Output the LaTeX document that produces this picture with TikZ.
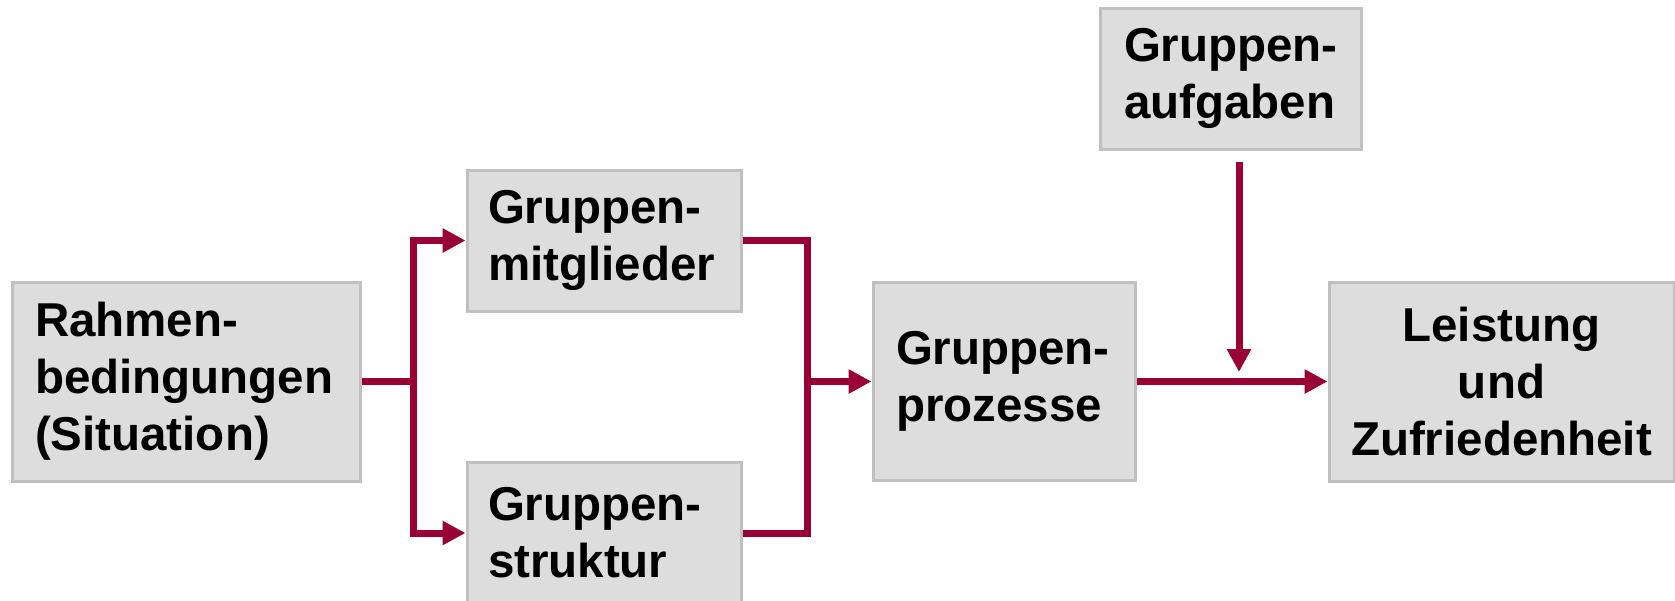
\documentclass[tikz,border=0pt]{standalone}
\usepackage{fontspec}
\setmainfont{Liberation Sans}
\usetikzlibrary{arrows.meta}
\definecolor{boxfill}{HTML}{DDDDDD}
\definecolor{boxline}{HTML}{C0C0C0}
\definecolor{arrowred}{HTML}{990033}
\begin{document}
\begin{tikzpicture}[x=0.5pt,y=-0.5pt,
  box/.style={draw=boxline, line width=1.5pt, fill=boxfill,
    font=\bfseries\fontsize{23.75}{28.5}\selectfont, inner ysep=0pt, anchor=center},
  lbox/.style={box, align=left},
  cbox/.style={box, align=center},
  flow/.style={draw=arrowred, line width=3.5pt},
  arr/.style={flow, -{Triangle[length=11.5pt,width=11.5pt]}}]
\useasboundingbox (0,0) rectangle (1675,600);
\node[lbox, text width=151pt, inner xsep=11.5pt, minimum height=99.5pt] (rahmen) at (186,381.5)
  {\mbox{Rahmen-}\\\mbox{bedingungen}\\\mbox{(Situation)}};
\node[lbox, text width=116pt, inner xsep=10.5pt, minimum height=70.5pt] (mitglieder) at (604,240.5)
  {\mbox{Gruppen-}\\\mbox{mitglieder}};
\node[lbox, text width=116pt, inner xsep=10.5pt, minimum height=71pt] (struktur) at (604,533)
  {\mbox{Gruppen-}\\\mbox{struktur}};
\node[lbox, text width=108pt, inner xsep=11.5pt, minimum height=99pt] (prozesse) at (1004,381.5)
  {\mbox{Gruppen-}\\\mbox{prozesse}};
\node[lbox, text width=106.5pt, inner xsep=12pt, minimum height=70.5pt] (aufgaben) at (1230.5,78.5)
  {\mbox{Gruppen-}\\\mbox{aufgaben}};
\node[cbox, text width=160pt, inner xsep=6.25pt, minimum height=99.5pt] (leistung) at (1501.5,381.5)
  {Leistung\\und\\\mbox{Zufriedenheit}};
\coordinate (split) at (413,381.5);
\coordinate (join) at (807,381.5);
\coordinate (drop) at (1239,162);
\coordinate (hit) at (1239,372);
\draw[flow] (rahmen.east) -- (split);
\draw[arr] (split) |- (mitglieder.west);
\draw[arr] (split) |- (struktur.west);
\draw[flow] (mitglieder.east) -| (join);
\draw[flow] (struktur.east) -| (join);
\draw[arr] (join) -- (prozesse.west);
\draw[arr] (prozesse.east) -- (leistung.west);
\draw[arr] (drop) -- (hit);
\end{tikzpicture}
\end{document}
